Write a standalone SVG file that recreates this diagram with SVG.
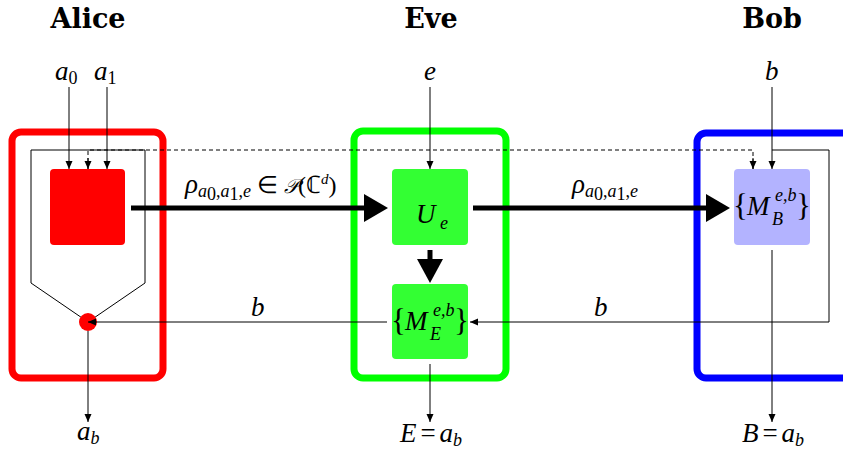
<svg xmlns="http://www.w3.org/2000/svg" width="843" height="450" viewBox="0 0 843 450">
<style>
.title{font-family:"DejaVu Serif",serif;font-weight:bold;font-size:27px;text-anchor:middle;fill:#000}
.m{font-family:"Liberation Serif",serif;font-style:italic;font-size:27px;fill:#000}
.r{font-style:normal}
.sub{font-size:18px}
.br{font-family:"Liberation Serif",serif;font-style:normal;font-size:31px;fill:#000}
.thin{stroke:#000;stroke-width:1;fill:none}
.thick{stroke:#000;stroke-width:5;fill:none}
</style>
<defs>
<marker id="ah" markerWidth="8" markerHeight="8" refX="8" refY="4" orient="auto" markerUnits="userSpaceOnUse">
<path d="M0,0.5 L8,4 L0,7.5 Z" fill="#000"/>
</marker>
</defs>
<rect width="843" height="450" fill="#fff"/>

<text class="title" x="88" y="28">Alice</text>
<text class="title" x="431" y="28">Eve</text>
<text class="title" x="772" y="28">Bob</text>

<g id="alice">
<rect x="12" y="132" width="151" height="246" rx="9" fill="none" stroke="#ff0000" stroke-width="7"/>
<path d="M31,150 V283 L88,322 L145,283 V150 Z" class="thin"/>
<rect x="50" y="169" width="75" height="76" rx="4" fill="#ff0000"/>
<circle cx="88" cy="322" r="9" fill="#ff0000"/>
</g>

<g id="eve">
<rect x="354" y="131" width="152" height="247" rx="9" fill="none" stroke="#00ff00" stroke-width="7"/>
<rect id="Ue" x="392" y="169" width="76" height="76" rx="4" fill="#33ff33"/>
<rect id="ME" x="392" y="284" width="76" height="75" rx="4" fill="#33ff33"/>
</g>

<g id="bob">
<rect x="697" y="133" width="160" height="245" rx="9" fill="none" stroke="#0000ff" stroke-width="7"/>
<rect id="MB" x="734" y="169" width="76" height="76" rx="4" fill="#b3b3ff"/>
</g>

<g id="connectors">
<line x1="69" y1="87" x2="69" y2="169" class="thin" marker-end="url(#ah)"/>
<line x1="107" y1="87" x2="107" y2="169" class="thin" marker-end="url(#ah)"/>
<path d="M88,169 V150 H753 V169" class="thin" stroke-dasharray="4,3"/>
<path d="M88,158 V169" class="thin" marker-end="url(#ah)"/>
<path d="M753,158 V169" class="thin" marker-end="url(#ah)"/>
<line x1="430" y1="87" x2="430" y2="169" class="thin" marker-end="url(#ah)"/>
<line x1="772" y1="87" x2="772" y2="169" class="thin" marker-end="url(#ah)"/>
<path d="M772,150 H829 V322 H470" class="thin" marker-end="url(#ah)"/>
<line x1="387" y1="322" x2="88" y2="322" class="thin" marker-end="url(#ah)"/>
<line x1="88" y1="331" x2="88" y2="422" class="thin" marker-end="url(#ah)"/>
<line x1="430" y1="364" x2="430" y2="422" class="thin" marker-end="url(#ah)"/>
<line x1="772" y1="250" x2="772" y2="422" class="thin" marker-end="url(#ah)"/>
<line x1="131" y1="208" x2="366" y2="208" class="thick"/>
<path d="M364,194 L388,208 L364,222 Z" fill="#000"/>
<line x1="473" y1="208" x2="708" y2="208" class="thick"/>
<path d="M706,194 L730,208 L706,222 Z" fill="#000"/>
<line x1="430" y1="250" x2="430" y2="262" class="thick"/>
<path d="M417,259 L443,259 L430,283 Z" fill="#000"/>
</g>

<g id="labels">
<text class="m" x="55" y="80">a<tspan class="sub r" dy="4">0</tspan></text>
<text class="m" x="94" y="80">a<tspan class="sub r" dy="4">1</tspan></text>
<text class="m" x="424" y="80">e</text>
<text class="m" x="765" y="80">b</text>
<text class="m" x="185" y="193">ρ<tspan class="sub" dy="4">a</tspan><tspan class="sub r" font-size="12" dy="3">0</tspan><tspan class="sub r" dy="-3">,</tspan><tspan class="sub">a</tspan><tspan class="sub r" font-size="12" dy="3">1</tspan><tspan class="sub r" dy="-3">,</tspan><tspan class="sub">e</tspan><tspan class="r" dy="-4" font-size="24"> ∈ </tspan><tspan font-family="DejaVu Serif" font-size="20">𝒫</tspan><tspan class="r" font-size="24">(ℂ</tspan><tspan font-size="15" dy="-9">d</tspan><tspan class="r" font-size="24" dy="9">)</tspan></text>
<text class="m" x="572" y="193">ρ<tspan class="sub" dy="4">a</tspan><tspan class="sub r" font-size="12" dy="3">0</tspan><tspan class="sub r" dy="-3">,</tspan><tspan class="sub">a</tspan><tspan class="sub r" font-size="12" dy="3">1</tspan><tspan class="sub r" dy="-3">,</tspan><tspan class="sub">e</tspan></text>
<text class="m" x="416" y="223" font-size="30">U</text>
<text class="m sub" x="440" y="229" font-size="20">e</text>
<text class="br" x="391" y="331">{</text>
<text class="m" x="405" y="330" font-size="30">M</text>
<text class="m sub" x="433" y="316" font-size="18">e,b</text>
<text class="m sub" x="430" y="340" font-size="18">E</text>
<text class="br" x="454" y="331">}</text>
<text class="br" x="733" y="216">{</text>
<text class="m" x="747" y="215" font-size="30">M</text>
<text class="m sub" x="775" y="201" font-size="18">e,b</text>
<text class="m sub" x="772" y="225" font-size="18">B</text>
<text class="br" x="796" y="216">}</text>
<text class="m" x="251" y="316" font-size="28">b</text>
<text class="m" x="594" y="316" font-size="28">b</text>
<text class="m" x="77" y="440">a<tspan class="sub" dy="4">b</tspan></text>
<text class="m" x="431" y="442" text-anchor="middle">E<tspan class="r" dx="4">=</tspan><tspan dx="4">a</tspan><tspan class="sub" dy="4">b</tspan></text>
<text class="m" x="773" y="442" text-anchor="middle">B<tspan class="r" dx="4">=</tspan><tspan dx="4">a</tspan><tspan class="sub" dy="4">b</tspan></text>
</g>
</svg>
